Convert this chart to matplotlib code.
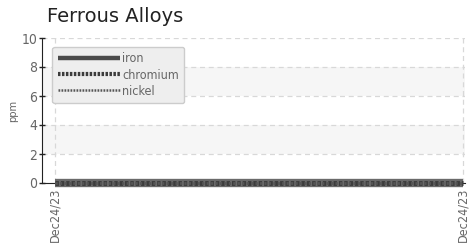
import matplotlib
matplotlib.use("Agg")
import matplotlib.pyplot as plt

dates = ["Dec24/23", "Dec24/23"]
iron = [0, 0]
chromium = [0, 0]
nickel = [0, 0]
yticks = [0, 2, 4, 6, 8, 10]

COND = dict(family="DejaVu Sans", stretch="condensed")

fig = plt.figure(figsize=(4.69, 2.46), dpi=100)
ax = fig.add_axes([42 / 469, 63 / 246, 423 / 469, 145 / 246])

x = list(range(len(dates)))
for lo, hi in [(2, 4), (6, 8)]:
    ax.axhspan(lo, hi, color="#f6f6f6", lw=0, zorder=0)
ax.plot(x, iron, color="#6a6a6a", lw=6, solid_capstyle="butt", label="iron", zorder=3, clip_on=False)
ax.plot(x, chromium, color="#3c3c3c", lw=3.5, ls=(0, (0.7, 0.4)), label="chromium", zorder=4, clip_on=False)
ax.plot(x, nickel, color="#555555", lw=2, ls=(0, (0.8, 0.8)), label="nickel", zorder=5, clip_on=False)

ax.set_ylim(0, 10)
ax.set_xlim(-13 / 408, 1 + 2 / 408)
ax.set_yticks(yticks)
ax.set_xticks(x)
ax.set_xticklabels(dates, rotation=90, fontsize=9, color="#666666", **COND)
for t in ax.get_yticklabels():
    t.set_fontsize(10); t.set_color("#666666"); t.set_family("DejaVu Sans"); t.set_stretch("condensed")
ax.tick_params(axis="y", direction="inout", length=5, width=1, color="#222222", pad=1)
ax.tick_params(axis="x", length=0, pad=3)
ax.grid(True, ls=(0, (4, 3)), color="#d8d8d8", lw=0.9)
ax.set_axisbelow(True)
for s in ["top", "right"]:
    ax.spines[s].set_visible(False)
ax.spines["left"].set_color("#222222")
ax.spines["bottom"].set_color("#222222")
ax.set_ylabel("ppm", fontsize=8, color="#666666", labelpad=2, **COND)

leg = ax.legend(loc="upper left", bbox_to_anchor=(0.015, 0.965), handlelength=5.0,
                handletextpad=0.15, labelspacing=0.25, frameon=True,
                fancybox=True, borderpad=0.45, borderaxespad=0.3,
                prop={"family": "DejaVu Sans", "stretch": "condensed", "size": 9})
leg.get_frame().set_facecolor("#eeeeee")
leg.get_frame().set_edgecolor("#cccccc")
leg.get_frame().set_alpha(1)
for t in leg.get_texts():
    t.set_color("#666666")
hl = leg.get_lines()
hl[0].set_linewidth(3.2); hl[0].set_color("#4a4a4a")
hl[1].set_linewidth(3); hl[1].set_linestyle((0, (0.6, 0.35)))
hl[2].set_linewidth(1.8); hl[2].set_linestyle((0, (0.7, 0.5)))

fig.text(47 / 469, 1 - 16 / 246, "Ferrous Alloys", fontsize=14, color="#222222",
         va="center", ha="left")
fig.savefig("out.png", dpi=100)
